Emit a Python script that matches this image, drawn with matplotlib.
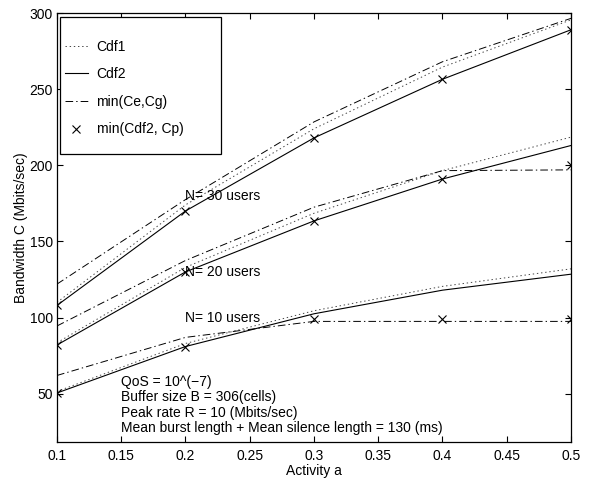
import matplotlib
matplotlib.use("Agg")
import matplotlib.pyplot as plt
from matplotlib.patches import Rectangle

plt.rcParams["font.family"] = ["Liberation Sans", "DejaVu Sans"]
plt.rcParams["lines.scale_dashes"] = False

activity = [0.1, 0.2, 0.3, 0.4, 0.5]

# N = 30 users
cdf1_30 = [110, 174, 224, 264.5, 295.5]
cdf2_30 = [108, 170, 218, 256.5, 289]
cecg_30 = [122, 177.5, 228.5, 268, 296.5]
cp_30 = [108, 170, 218, 256.5, 289]

# N = 20 users
cdf1_20 = [83.5, 133, 168.5, 196.5, 218.5]
cdf2_20 = [82, 130, 163.5, 191, 213]
cecg_20 = [94.5, 137.5, 172.5, 196.5, 197]
cp_20 = [82, 130, 163.5, 191, 200]

# N = 10 users
cdf1_10 = [51.5, 83, 104.5, 120.5, 132]
cdf2_10 = [50.5, 81, 102.5, 118, 128.5]
cecg_10 = [62, 87, 97.5, 97.5, 97.5]
cp_10 = [50.5, 81, 99, 99, 99]

group_labels = ["N= 30 users", "N= 20 users", "N= 10 users"]
group_label_y = [180, 130, 100]

params_text = [
    "QoS = 10^(\u22127)",
    "Buffer size B = 306(cells)",
    "Peak rate R = 10 (Mbits/sec)",
    "Mean burst length + Mean silence length = 130 (ms)",
]

FS = 10

fig = plt.figure(figsize=(5.9, 4.82), dpi=100)
ax = fig.add_axes([0.0966, 0.0836, 0.8712, 0.8894])

dot_style = dict(color="#444444", linewidth=0.7, linestyle=(0, (1.0, 2.0)))
solid_style = dict(color="black", linewidth=0.8, linestyle="-")
dashdot_style = dict(color="black", linewidth=0.7, linestyle=(0, (5.5, 2.2, 1.0, 2.2)))
cross_style = dict(color="black", linestyle="none", marker="x", markersize=6,
                   markeredgewidth=0.8)

groups = [
    (cdf1_30, cdf2_30, cecg_30, cp_30),
    (cdf1_20, cdf2_20, cecg_20, cp_20),
    (cdf1_10, cdf2_10, cecg_10, cp_10),
]
for i, (cdf1, cdf2, cecg, cp) in enumerate(groups):
    ax.plot(activity, cdf1, label="Cdf1" if i == 0 else None, **dot_style)
    ax.plot(activity, cdf2, label="Cdf2" if i == 0 else None, **solid_style)
    ax.plot(activity, cecg, label="min(Ce,Cg)" if i == 0 else None, **dashdot_style)
    ax.plot(activity, cp, label="min(Cdf2, Cp)" if i == 0 else None, **cross_style)

for label, y in zip(group_labels, group_label_y):
    ax.text(0.2, y, label, fontsize=FS, ha="left", va="center")

ax.text(0.15, 42.5, "\n".join(params_text), fontsize=FS, ha="left", va="center",
        linespacing=1.12)

ax.set_xlim(0.1, 0.5)
ax.set_ylim(18.5, 300)
ax.set_xticks([0.1, 0.15, 0.2, 0.25, 0.3, 0.35, 0.4, 0.45, 0.5])
ax.set_xticklabels(["0.1", "0.15", "0.2", "0.25", "0.3", "0.35", "0.4", "0.45", "0.5"])
ax.set_yticks([50, 100, 150, 200, 250, 300])
ax.tick_params(direction="in", length=4, width=0.8, top=True, right=True,
               labelsize=FS, pad=5)
ax.tick_params(axis="y", pad=3)
for spine in ax.spines.values():
    spine.set_linewidth(0.9)

ax.set_xlabel("Activity a", fontsize=FS, labelpad=1)
ax.set_ylabel("Bandwidth C (Mbits/sec)", fontsize=FS, labelpad=1)

# legend box drawn separately: wide vertical padding, tight on the left
ax.add_patch(Rectangle((0.0058, 0.6716), 0.313, 0.3198, transform=ax.transAxes,
                       facecolor="white", edgecolor="black", linewidth=0.9,
                       zorder=4))
leg = ax.legend(loc="upper left", bbox_to_anchor=(0.0156, 0.938),
                fontsize=FS, frameon=False, borderpad=0.0, labelspacing=0.98,
                handlelength=1.65, handletextpad=0.62, borderaxespad=0.0)
leg.set_zorder(5)

fig.savefig("out.png", dpi=100)
